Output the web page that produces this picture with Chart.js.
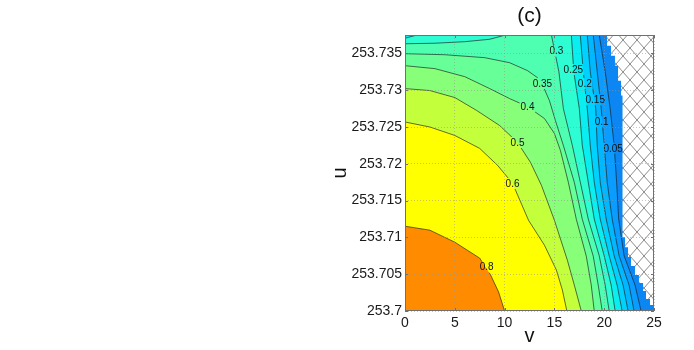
<!DOCTYPE html>
<html>
<head>
<meta charset="utf-8">
<script src="https://cdn.jsdelivr.net/npm/chart.js@4.4.1/dist/chart.umd.min.js"></script>
<style>
  html, body { margin: 0; padding: 0; background: #fff; }
  canvas { display: block; }
</style>
</head>
<body>
<canvas id="contourChart" width="694" height="350"></canvas>
<script>
// axis ranges and ticks
const vRange = [0, 25];
const uRange = [253.7, 253.7375];
const xTicks = [0, 5, 10, 15, 20, 25];
const xTickLabels = ['0', '5', '10', '15', '20', '25'];
const yTicks = [253.7, 253.705, 253.71, 253.715, 253.72, 253.725, 253.73, 253.735];
const yTickLabels = ['253.7', '253.705', '253.71', '253.715', '253.72', '253.725', '253.73', '253.735'];

// contour levels, fill colour of each band (first = below 0.05, last = above 0.8)
const levels = [0.05, 0.1, 0.15, 0.2, 0.25, 0.3, 0.35, 0.4, 0.5, 0.6, 0.8];
const bandColors = ['#0b86f2', '#0a9cff', '#00b8ff', '#00d2ff', '#0aeef0', '#2efcd2',
                    '#4effb2', '#66ff98', '#88ff78', '#c4ff3c', '#ffff00', '#ff8c00'];

// right-hand contours: v read at these u rows (top to bottom)
const uRows = [253.7375, 253.7325, 253.7275, 253.7225, 253.7175, 253.7125, 253.7075, 253.7035, 253.7];
const v005 = [19.5, 20.1, 20.6, 21.0, 21.25, 21.45, 22.0, 23.1, 23.7];
const v010 = [18.9, 19.3, 19.7, 20.0, 20.3, 20.8, 21.5, 22.5, 23.0];
const v015 = [18.3, 18.6, 19.15, 19.3, 19.6, 20.2, 21.0, 21.9, 22.4];
const v020 = [17.6, 17.9, 18.3, 18.6, 19.0, 19.6, 20.5, 21.3, 21.8];
const v025 = [16.7, 16.95, 17.5, 17.8, 18.4, 19.0, 20.0, 20.7, 21.1];
const v030 = [14.7, 15.45, 15.9, 16.8, 17.6, 18.4, 19.5, 20.1, 20.5];

// contours entering from the left edge, [v, u]
const c025a = [[0, 253.73706], [1.2, 253.7375]];
const c030a = [[0, 253.73631], [3, 253.73638], [6, 253.73659], [8.5, 253.73692], [10.1, 253.7375]];
const c035 = [[0, 253.73496], [4, 253.73482], [8, 253.73442], [10.5, 253.73374], [12.3, 253.73266],
              [13.3, 253.73171], [13.8, 253.73076], [14.5, 253.72859], [15.1, 253.72588], [15.9, 253.72249],
              [17.0, 253.71748], [17.8, 253.71247], [18.9, 253.70745], [19.4, 253.70352], [19.8, 253.7]];
const c040 = [[0, 253.73333], [3, 253.73293], [6, 253.73184], [8.5, 253.73022], [10.5, 253.72886],
              [12.3, 253.72778], [14.0, 253.72615], [15.0, 253.72412], [15.6, 253.72182], [16.4, 253.71748],
              [17.2, 253.71247], [18.2, 253.70745], [18.7, 253.70352], [19.0, 253.7]];
const c050 = [[0, 253.73022], [2.5, 253.72995], [5, 253.729], [7.2, 253.72724], [9.5, 253.7252],
              [11.3, 253.7229], [12.6, 253.72019], [13.7, 253.71707], [15.0, 253.71233], [16.3, 253.70691],
              [17.0, 253.70352], [17.7, 253.7]];
const c060 = [[0, 253.72568], [2.5, 253.725], [5, 253.72385], [7.5, 253.72209], [9.3, 253.71978],
              [10.8, 253.71734], [12.4, 253.71233], [14.0, 253.70894], [15.2, 253.70556], [15.8, 253.70285],
              [16.25, 253.7]];
const c080 = [[0, 253.71152], [2.5, 253.71098], [5, 253.70935], [7.5, 253.70718], [8.6, 253.70488],
              [9.4, 253.70257], [10, 253.7]];

// edge of the undefined (hatched) region, [v, u]
const nanEdge = [[20.28, 253.7375], [20.28, 253.73604], [20.68, 253.73604], [20.68, 253.73469], [21.08, 253.73469],
                 [21.08, 253.73333], [21.39, 253.73333], [21.39, 253.7313], [21.69, 253.7313], [21.69, 253.72927],
                 [21.84, 253.72927], [21.84, 253.71003], [22.09, 253.71003], [22.09, 253.70867], [22.39, 253.70867],
                 [22.39, 253.70732], [22.69, 253.70732], [22.69, 253.7061], [23.09, 253.7061], [23.09, 253.70488],
                 [23.49, 253.70488], [23.49, 253.70379], [23.9, 253.70379], [23.9, 253.70271], [24.2, 253.70271],
                 [24.2, 253.70163], [24.6, 253.70163], [24.6, 253.70081], [25, 253.70081]];

// contour labels
const clabels = [
    { text: '0.8', v: 8.2, u: 253.70596 },
    { text: '0.6', v: 10.8, u: 253.71734 },
    { text: '0.5', v: 11.3, u: 253.7229 },
    { text: '0.4', v: 12.3, u: 253.72778 },
    { text: '0.35', v: 13.8, u: 253.7309 },
    { text: '0.3', v: 15.2, u: 253.7353 },
    { text: '0.25', v: 16.9, u: 253.7328 },
    { text: '0.2', v: 18.05, u: 253.7309 },
    { text: '0.15', v: 19.1, u: 253.7287 },
    { text: '0.1', v: 19.75, u: 253.7257 },
    { text: '0.05', v: 20.9, u: 253.7221 }
];

const FONT = "'Liberation Sans', Arial, Helvetica, sans-serif";
Chart.defaults.font.family = FONT;
Chart.defaults.color = '#1a1a1a';

const toPts = pairs => pairs.map(p => ({ x: p[0], y: p[1] }));
const rowPts = vs => vs.map((v, i) => ({ x: v, y: uRows[i] }));

// pieces of each contour level, same order as levels
const contourPieces = [
    [rowPts(v005)],
    [rowPts(v010)],
    [rowPts(v015)],
    [rowPts(v020)],
    [toPts(c025a), rowPts(v025)],
    [toPts(c030a), rowPts(v030)],
    [toPts(c035)],
    [toPts(c040)],
    [toPts(c050)],
    [toPts(c060)],
    [toPts(c080)]
];

function hatchPattern() {
    const c = document.createElement('canvas');
    c.width = 14;
    c.height = 16;
    const g = c.getContext('2d');
    g.fillStyle = '#fff';
    g.fillRect(0, 0, 14, 16);
    g.strokeStyle = '#8c8c8c';
    g.lineWidth = 1;
    g.beginPath();
    g.moveTo(0, 0); g.lineTo(14, 16);
    g.moveTo(14, 0); g.lineTo(0, 16);
    g.stroke();
    return g.createPattern(c, 'repeat');
}

function area(points, color) {
    return { data: points, showLine: true, fill: 'shape', backgroundColor: color,
             borderWidth: 0, pointRadius: 0, pointHitRadius: 0, tension: 0 };
}

function contourLine(points) {
    return { data: points, showLine: true, fill: false, borderColor: 'rgba(25,25,25,0.8)',
             borderWidth: 0.8, pointRadius: 0, pointHitRadius: 0, tension: 0, isContour: true };
}

function buildDatasets() {
    const top = uRange[1], bottom = uRange[0];
    const sets = [];
    // lowest band fills the whole box
    sets.push(area(toPts([[vRange[0], bottom], [vRange[0], top], [vRange[1], top], [vRange[1], bottom]]), bandColors[0]));
    // superlevel regions, painted from low to high
    contourPieces.forEach((pieces, i) => {
        const pts = [];
        if (pieces[0][0].x > vRange[0]) pts.push({ x: vRange[0], y: top });
        pieces.forEach(p => pts.push(...p));
        pts.push({ x: vRange[0], y: bottom });
        sets.push(area(pts, bandColors[i + 1]));
    });
    contourPieces.forEach(pieces => pieces.forEach(p => sets.push(contourLine(p))));
    const nanPts = toPts(nanEdge);
    nanPts.push({ x: vRange[1], y: top });
    sets.push(area(nanPts, hatchPattern()));
    // later datasets on top
    sets.forEach((s, i) => { s.order = -i; });
    return sets;
}

function labelBoxes(chart) {
    const ctx = chart.ctx;
    const xs = chart.scales.x, ys = chart.scales.y;
    ctx.save();
    ctx.font = '10px ' + FONT;
    const boxes = clabels.map(l => {
        const w = ctx.measureText(l.text).width + 2;
        const x = xs.getPixelForValue(l.v), y = ys.getPixelForValue(l.u);
        return { text: l.text, cx: x, cy: y, x: x - w / 2, y: y - 5.5, w: w, h: 11 };
    });
    ctx.restore();
    return boxes;
}

// break contour lines under their labels, then write the labels
const clabelPlugin = {
    id: 'clabel',
    beforeDatasetDraw(chart, args) {
        if (!chart.data.datasets[args.index].isContour) return;
        const ctx = chart.ctx;
        ctx.save();
        ctx.beginPath();
        ctx.rect(0, 0, chart.width, chart.height);
        labelBoxes(chart).forEach(b => ctx.rect(b.x, b.y, b.w, b.h));
        ctx.clip('evenodd');
    },
    afterDatasetDraw(chart, args) {
        if (chart.data.datasets[args.index].isContour) chart.ctx.restore();
    },
    afterDatasetsDraw(chart) {
        const ctx = chart.ctx;
        ctx.save();
        ctx.font = '10px ' + FONT;
        ctx.fillStyle = '#111';
        ctx.textAlign = 'center';
        ctx.textBaseline = 'middle';
        labelBoxes(chart).forEach(b => ctx.fillText(b.text, b.cx, b.cy + 0.5));
        ctx.restore();
    }
};

// box, inward ticks and the panel title
const framePlugin = {
    id: 'frame',
    afterDraw(chart) {
        const ctx = chart.ctx;
        const a = chart.chartArea;
        const xs = chart.scales.x, ys = chart.scales.y;
        ctx.save();
        ctx.strokeStyle = '#707070';
        ctx.lineWidth = 1;
        ctx.strokeRect(a.left + 0.5, a.top + 0.5, a.right - a.left - 1, a.bottom - a.top - 1);
        ctx.beginPath();
        xTicks.forEach(v => {
            const x = Math.round(xs.getPixelForValue(v)) + 0.5;
            ctx.moveTo(x, a.bottom); ctx.lineTo(x, a.bottom - 3);
            ctx.moveTo(x, a.top); ctx.lineTo(x, a.top + 3);
        });
        yTicks.forEach(v => {
            const y = Math.round(ys.getPixelForValue(v)) + 0.5;
            ctx.moveTo(a.left, y); ctx.lineTo(a.left + 3, y);
            ctx.moveTo(a.right, y); ctx.lineTo(a.right - 3, y);
        });
        ctx.stroke();
        ctx.fillStyle = '#111';
        ctx.font = '21px ' + FONT;
        ctx.textAlign = 'center';
        ctx.textBaseline = 'middle';
        ctx.fillText('(c)', (a.left + a.right) / 2, 16);
        ctx.restore();
    }
};

const ctx = document.getElementById('contourChart').getContext('2d');

new Chart(ctx, {
    type: 'scatter',
    data: { datasets: buildDatasets() },
    options: {
        responsive: false,
        animation: false,
        events: [],
        layout: { padding: { left: 328, right: 40, top: 35, bottom: 1 } },
        scales: {
            x: {
                type: 'linear',
                min: vRange[0],
                max: vRange[1],
                bounds: 'data',
                afterBuildTicks: s => { s.ticks = xTicks.map(v => ({ value: v })); },
                afterFit: s => { s.height = 38; },
                ticks: { callback: (v, i) => xTickLabels[i], font: { size: 14 }, padding: 4,
                         maxRotation: 0, autoSkip: false, color: '#1a1a1a' },
                grid: { z: 1, drawTicks: false, color: 'rgba(150,150,150,0.55)', lineWidth: 1 },
                border: { display: false, dash: [1, 2] },
                title: { display: true, text: 'v', font: { size: 20 }, padding: { top: 0, bottom: 1 }, color: '#111' }
            },
            y: {
                type: 'linear',
                min: uRange[0],
                max: uRange[1],
                bounds: 'data',
                afterBuildTicks: s => { s.ticks = yTicks.map(v => ({ value: v })); },
                afterFit: s => { s.width = 77; },
                ticks: { callback: (v, i) => yTickLabels[i], font: { size: 14 }, padding: 3,
                         autoSkip: false, color: '#1a1a1a' },
                grid: { z: 1, drawTicks: false, color: 'rgba(150,150,150,0.55)', lineWidth: 1 },
                border: { display: false, dash: [1, 2] },
                title: { display: true, text: 'u', font: { size: 20 }, padding: { top: 0, bottom: 0 }, color: '#111' }
            }
        },
        plugins: {
            legend: { display: false },
            tooltip: { enabled: false },
            title: { display: false }
        }
    },
    plugins: [clabelPlugin, framePlugin]
});
</script>
</body>
</html>
